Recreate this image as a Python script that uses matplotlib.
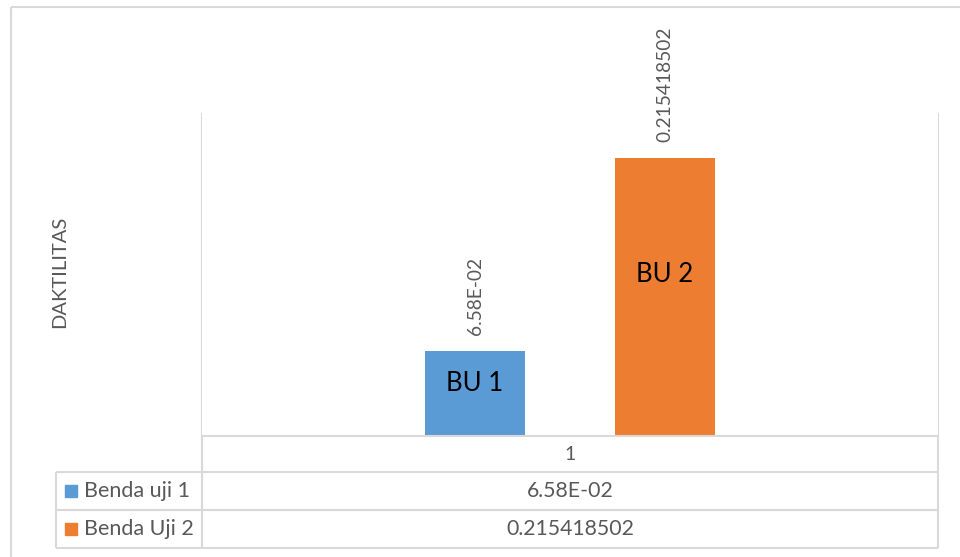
import matplotlib
matplotlib.use('Agg')
import matplotlib.pyplot as plt
from matplotlib.patches import Rectangle

plt.rcParams['font.family'] = ['Lato', 'DejaVu Sans']

# data
series = ['Benda uji 1', 'Benda Uji 2']
values = [0.0658, 0.215418502]
value_text = ['6.58E-02', '0.215418502']
bar_names = ['BU 1', 'BU 2']
name_height = [0.62, 0.58]   # where the name sits, as a share of the bar
category = '1'
colors = ['#5B9BD5', '#ED7D31']
ylabel = 'DAKTILITAS'

W, H = 960, 557
GRID = '#D9D9D9'
TXT = '#595959'

fig = plt.figure(figsize=(W / 100, H / 100), dpi=100)

# plot area in pixels: x 202..938, y 113..436
px0, px1, py0, py1 = 202, 938, 113, 436
ax = fig.add_axes([px0 / W, 1 - py1 / H, (px1 - px0) / W, (py1 - py0) / H])
ax.set_xlim(-0.5, 0.5)
ax.set_ylim(0, 0.25)

offsets = [-0.129, 0.129]
width = 0.137
for off, v, c, txt, name, fr in zip(offsets, values, colors, value_text,
                                    bar_names, name_height):
    ax.bar(off, v, width=width, color=c, zorder=2)
    ax.annotate(txt, (off, v), xytext=(0, 16), textcoords='offset pixels',
                rotation=90, ha='center', va='bottom', color=TXT, fontsize=13.8)
    ax.text(off, v * fr, name, ha='center', va='center', fontsize=18.5,
            color='black', zorder=3)

ax.set_xticks([])
ax.set_yticks([])
for s in ['top', 'right', 'left']:
    ax.spines[s].set_visible(False)
ax.spines['bottom'].set_color(GRID)
ax.spines['bottom'].set_linewidth(1.5)

# overlay in pixel coords for the data table and chart frame
ov = fig.add_axes([0, 0, 1, 1], zorder=-1)
ov.set_xlim(0, W)
ov.set_ylim(H, 0)
ov.axis('off')

def hline(y, x0, x1):
    ov.plot([x0, x1], [y, y], color=GRID, lw=1.5, solid_capstyle='butt')

def vline(x, y0, y1):
    ov.plot([x, x], [y0, y1], color=GRID, lw=1.5, solid_capstyle='butt')

# chart frame
hline(7, 11, W)
vline(11, 7, H)

# table grid
rows = [436, 472, 510, 548]
vline(px0, py0, rows[-1])
vline(px1, py0, rows[-1])
vline(56, rows[1], rows[-1])
hline(rows[1], 56, px1)
hline(rows[2], 56, px1)
hline(rows[3], 56, px1)

cx = (px0 + px1) / 2
ov.text(cx, (rows[0] + rows[1]) / 2, category, ha='center', va='center',
        fontsize=14, color=TXT)
for i, (name, txt, c) in enumerate(zip(series, value_text, colors)):
    yc = (rows[i + 1] + rows[i + 2]) / 2
    ov.add_patch(Rectangle((65, yc - 6), 12, 12, color=c))
    ov.text(84, yc, name, ha='left', va='center', fontsize=15.5, color=TXT)
    ov.text(cx, yc, txt, ha='center', va='center', fontsize=15.3, color=TXT)

fig.text(60 / W, 1 - 272 / H, ylabel, rotation=90, ha='center', va='center',
         fontsize=14.5, color=TXT)

fig.savefig('out.png', dpi=100, facecolor='white')
